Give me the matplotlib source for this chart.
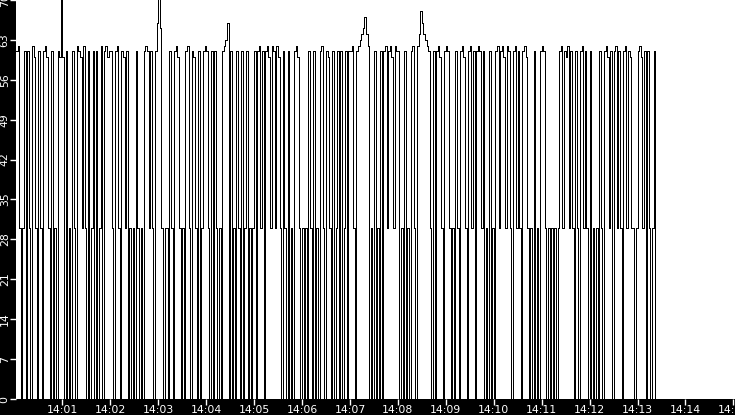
import numpy as np
import pandas as pd
import matplotlib
matplotlib.use("Agg")
import matplotlib.pyplot as plt
import matplotlib.dates as mdates

# samples every 2 s, one list per minute (14:00 starts at :02, 14:13 stops at :22)
min00 = [61,62,30,0,30,61,0,61,30,0,62,60,30,0,61,30,0,61,62,60,30,0,61,0,30,0,61,60,74]
min01 = [60,0,61,0,30,0,61,30,0,62,61,60,30,62,30,0,61,0,30,61,0,61,0,30,62,0,61,62,60,61]
min02 = [61,30,0,61,62,30,0,61,60,30,61,0,30,0,30,0,61,30,0,30,0,61,62,61,30,61,30,0,61,66]
min03 = [73,65,30,0,30,30,0,61,30,0,61,62,60,30,0,30,0,61,62,30,0,61,60,30,0,61,0,30,61,62]
min04 = [61,30,0,61,0,61,30,0,30,0,61,62,63,66,0,61,0,30,0,61,30,0,61,0,30,61,0,30,0,30]
min05 = [61,0,61,62,30,61,0,61,62,60,30,62,61,30,62,60,30,0,61,30,0,61,0,30,0,61,62,60,30,0]
min06 = [30,0,30,0,61,30,0,61,0,30,0,61,62,30,0,61,60,30,0,61,0,30,61,0,61,0,30,61,0,61]
min07 = [61,62,30,0,61,62,63,64,65,67,64,62,0,30,0,61,0,30,0,61,0,61,62,30,61,62,60,30,62,61]
min08 = [61,0,30,0,61,0,30,0,61,62,30,0,62,64,68,66,64,63,62,61,30,0,61,0,61,62,60,30,0,61]
min09 = [62,61,30,0,30,0,61,30,0,61,62,60,30,0,61,62,30,61,0,61,62,61,30,61,0,30,0,61,0,30]
min10 = [0,61,62,30,61,62,60,30,62,61,30,0,61,62,30,61,30,0,61,62,60,30,0,30,0,61,0,30,0,61]
min11 = [62,61,30,0,30,0,30,0,30,0,30,61,62,30,61,60,62,30,61,30,0,61,30,0,61,62,30,61,30,0]
min12 = [61,0,30,0,30,0,61,30,0,61,62,60,30,61,0,61,62,30,61,30,0,61,62,30,61,60,30,30,0,30]
min13 = [61,62,60,30,61,0,61,30,0,30,61,0]

values = min00 + min01 + min02 + min03 + min04 + min05 + min06 + min07 + \
    min08 + min09 + min10 + min11 + min12 + min13
times = pd.date_range("2024-01-01 14:00:02", periods=len(values), freq="2s")

fig = plt.figure(figsize=(7.35, 4.15), dpi=100, facecolor="black")
ax = fig.add_axes([16 / 735, 16 / 415, 719 / 735, 399 / 415])
ax.set_facecolor("white")

ax.plot(times, values, color="black", linewidth=0.72, antialiased=False,
        drawstyle="steps-post")

ax.set_ylim(0, 70)
ax.set_yticks(np.arange(0, 71, 7))
ax.set_xlim(pd.Timestamp("2024-01-01 14:00:02"), pd.Timestamp("2024-01-01 14:15:02"))
ax.xaxis.set_major_locator(mdates.MinuteLocator())
ax.xaxis.set_major_formatter(mdates.DateFormatter("%H:%M"))

for s in ax.spines.values():
    s.set_visible(False)
ax.tick_params(colors="white", length=4, width=1, pad=0.5, labelsize=7.8)
for lab in ax.get_yticklabels():
    lab.set_rotation(90)
    lab.set_va("center")

fig.savefig("out.png", dpi=100, facecolor="black")
